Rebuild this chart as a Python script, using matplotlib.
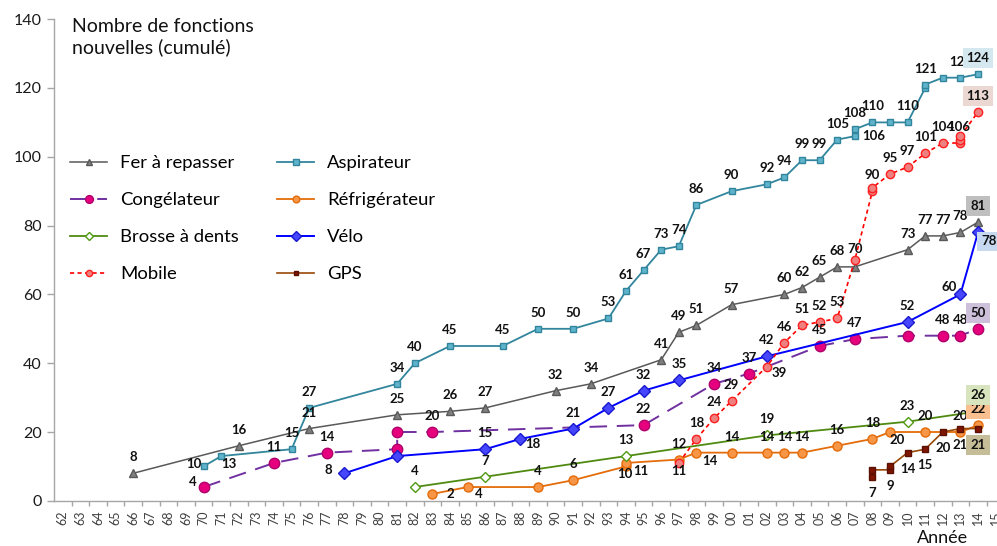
import matplotlib
matplotlib.use("Agg")
import matplotlib.pyplot as plt

# ---------------- data ----------------
fer_years = [1966, 1972, 1976, 1981, 1984, 1986, 1990, 1992, 1996, 1997, 1998, 2000,
             2003, 2004, 2005, 2006, 2007, 2010, 2011, 2012, 2013, 2014]
fer_vals = [8, 16, 21, 25, 26, 27, 32, 34, 41, 49, 51, 57, 60, 62, 65, 68, 68, 73, 77, 77, 78, 81]

asp_years = [1970, 1971, 1975, 1976, 1981, 1982, 1984, 1987, 1989, 1991, 1993, 1994, 1995,
             1996, 1997, 1998, 2000, 2002, 2003, 2004, 2005, 2006, 2007, 2007, 2008, 2009,
             2010, 2011, 2011, 2012, 2013, 2014]
asp_vals = [10, 13, 15, 27, 34, 40, 45, 45, 50, 50, 53, 61, 67, 73, 74, 86, 90, 92, 94, 99,
            99, 105, 106, 108, 110, 110, 110, 120, 121, 123, 123, 124]

cong_years = [1970, 1974, 1977, 1981, 1981, 1983, 1995, 1999, 2001, 2005, 2007, 2010, 2012, 2013, 2014]
cong_vals = [4, 11, 14, 15, 20, 20, 22, 34, 37, 45, 47, 48, 48, 48, 50]

refr_years = [1983, 1985, 1989, 1991, 1994, 1994, 1997, 1998, 2000, 2002, 2003, 2004, 2006,
              2008, 2009, 2011, 2013, 2014]
refr_vals = [2, 4, 4, 6, 10, 11, 12, 14, 14, 14, 14, 14, 16, 18, 20, 20, 20, 22]

brosse_years = [1982, 1986, 1994, 2002, 2010, 2014]
brosse_vals = [4, 7, 13, 19, 23, 26]

velo_years = [1978, 1981, 1986, 1988, 1991, 1993, 1995, 1997, 2002, 2010, 2013, 2014]
velo_vals = [8, 13, 15, 18, 21, 27, 32, 35, 42, 52, 60, 78]

mobile_years = [1997, 1998, 1999, 2000, 2002, 2003, 2004, 2005, 2006, 2007, 2008, 2008, 2009,
                2010, 2011, 2012, 2013, 2013, 2013, 2014]
mobile_vals = [11, 18, 24, 29, 39, 46, 51, 52, 53, 70, 90, 91, 95, 97, 101, 104, 104, 105, 106, 113]

gps_years = [2008, 2008, 2009, 2009, 2010, 2011, 2012, 2013, 2014]
gps_vals = [7, 9, 9, 10, 14, 15, 20, 21, 21]

series_names = ["Fer à repasser", "Aspirateur", "Congélateur", "Réfrigérateur",
                "Brosse à dents", "Vélo", "Mobile", "GPS"]

tick_years = list(range(1962, 2016))
tick_labels = [f"{y % 100:02d}" for y in tick_years]
y_ticks = [0, 20, 40, 60, 80, 100, 120, 140]

# ---------------- styles ----------------
styles = {
    "Fer à repasser": dict(color="#595959", lw=1.1, ls="-", marker="^", ms=6,
                           mfc="#7f7f7f", mec="#595959"),
    "Aspirateur": dict(color="#31859c", lw=1.3, ls="-", marker="s", ms=5,
                       mfc="#5fb4cc", mec="#31859c"),
    "Congélateur": dict(color="#7030a0", lw=1.4, ls=(0, (9, 5)), marker="o", ms=7.5,
                        mfc="#e6007e", mec="#b0006a"),
    "Réfrigérateur": dict(color="#e46c0a", lw=1.3, ls="-", marker="o", ms=6.5,
                          mfc="#f79646", mec="#e46c0a"),
    "Brosse à dents": dict(color="#4f8a10", lw=1.3, ls="-", marker="D", ms=5.5,
                           mfc="white", mec="#4f9a10"),
    "Vélo": dict(color="#0000ff", lw=1.4, ls="-", marker="D", ms=6.5,
                 mfc="#4646ff", mec="#1a1acc"),
    "Mobile": dict(color="#ff0000", lw=1.2, ls=(0, (2.5, 2)), marker="o", ms=6,
                   mfc="#ee8080", mec="#ff2020"),
    "GPS": dict(color="#984807", lw=1.2, ls="-", marker="s", ms=4.5,
                mfc="#7f1500", mec="#5a1000"),
}

data = {
    "Fer à repasser": (fer_years, fer_vals),
    "Aspirateur": (asp_years, asp_vals),
    "Congélateur": (cong_years, cong_vals),
    "Réfrigérateur": (refr_years, refr_vals),
    "Brosse à dents": (brosse_years, brosse_vals),
    "Vélo": (velo_years, velo_vals),
    "Mobile": (mobile_years, mobile_vals),
    "GPS": (gps_years, gps_vals),
}

# label layout: default above the point; (dx, dy) in pixels, dy upwards
default_off = {name: (0, 16) for name in series_names}
default_off["GPS"] = (0, -16)
label_off = {
    "Aspirateur": {0: (-10, 2), 1: (8, -8), 22: (19, 0)},
    "Congélateur": {0: (-11, 5)},
    "Réfrigérateur": {0: (18, 0), 1: (11, -7), 4: (-1, -8), 5: (15, -8), 7: (13, -8), 14: (7, -8)},
    "Vélo": {0: (-16, 3), 3: (12, -5), 10: (-11, 7), 11: (11, -9)},
    "Mobile": {0: (0, -8), 4: (12, -6), 6: (0, 16), 7: (0, 16), 9: (0, 11), 18: (-2, 9)},
}
skip = {
    "Fer à repasser": {16},
    "Aspirateur": {25, 27, 29},
    "Congélateur": {3, 4, 11},
    "Vélo": {1},
    "Mobile": {11, 16, 17},
    "GPS": {1, 3},
}
end_box = {
    "Fer à repasser": "#bfbfbf",
    "Aspirateur": "#d5e8f0",
    "Congélateur": "#ccc0da",
    "Réfrigérateur": "#fabf8f",
    "Brosse à dents": "#d7e4bd",
    "Vélo": "#c6d9f1",
    "Mobile": "#ecd8d2",
    "GPS": "#c4bd97",
}

# ---------------- figure ----------------
fig = plt.figure(figsize=(9.97, 5.46), dpi=100)
ax = fig.add_axes([54 / 997, 45.2 / 546, 943 / 997, 481.6 / 546])

handles = {}
for name in series_names:
    xs, ys = data[name]
    st = styles[name]
    (ln,) = ax.plot(xs, ys, color=st["color"], lw=st["lw"], ls=st["ls"],
                    marker=st["marker"], ms=st["ms"], mfc=st["mfc"], mec=st["mec"],
                    mew=1.0, label=name, zorder=3, clip_on=False)
    handles[name] = ln

label_font = dict(family=["Lato", "DejaVu Sans"], fontsize=9.5, fontweight="bold", color="#111111")
for name in series_names:
    xs, ys = data[name]
    n = len(xs)
    for i, (x, y) in enumerate(zip(xs, ys)):
        if i in skip.get(name, set()):
            continue
        dx, dy = label_off.get(name, {}).get(i, default_off[name])
        kw = {}
        z = 5
        if i == n - 1:
            kw["bbox"] = dict(boxstyle="square,pad=0.3", fc=end_box[name], ec="none")
            z = 6
        ax.annotate(str(y), (x, y), xytext=(dx, dy), textcoords="offset pixels",
                    ha="center", va="center", zorder=z, annotation_clip=False,
                    **label_font, **kw)

# year labels centred between boundary tick marks
ax.set_xticks(tick_years)
ax.set_xticklabels(tick_labels, rotation=90, fontsize=9, color="#404040",
                   family=["Lato", "DejaVu Sans"])
ax.set_xticks([y + 0.5 for y in tick_years], minor=True)
ax.tick_params(axis="x", which="major", length=0, pad=7, labelcolor="#404040")
ax.tick_params(axis="x", which="minor", length=3.5, width=1, color="#a6a6a6")
ax.set_yticks(y_ticks)
ax.set_yticklabels([str(v) for v in y_ticks], fontsize=11.5, color="#1a1a1a",
                   family=["Lato", "DejaVu Sans"])
ax.tick_params(axis="y", colors="#a6a6a6", length=5, width=1, labelcolor="#1a1a1a", pad=4)
ax.set_xlim(1961.5, 2015.08)
ax.set_ylim(0, 140)
for s in ["top", "right"]:
    ax.spines[s].set_visible(False)
for s in ["left", "bottom"]:
    ax.spines[s].set_color("#a6a6a6")
    ax.spines[s].set_linewidth(1.0)

fig.text(72 / 997, 1 - 18 / 546, "Nombre de fonctions\nnouvelles (cumulé)",
         family=["Lato", "DejaVu Sans"], fontsize=14, va="top", ha="left",
         linespacing=1.2, color="#111111")
fig.text(942 / 997, 1 - 538 / 546, "Année", family=["Lato", "DejaVu Sans"],
         fontsize=13, ha="center", va="center", color="#111111")

order = ["Fer à repasser", "Congélateur", "Brosse à dents", "Mobile",
         "Aspirateur", "Réfrigérateur", "Vélo", "GPS"]
leg = ax.legend([handles[k] for k in order], order, ncol=2, loc="upper left",
                bbox_to_anchor=(0.017, 0.718), frameon=False, borderaxespad=0,
                borderpad=0, handlelength=2.0, handletextpad=0.7,
                columnspacing=2.1, labelspacing=1.14,
                prop=dict(family=["Lato", "DejaVu Sans"], size=13.3))
for h in leg.legend_handles:
    h.set_markersize(h.get_markersize() * 0.75)

fig.savefig("out.png", dpi=100)
